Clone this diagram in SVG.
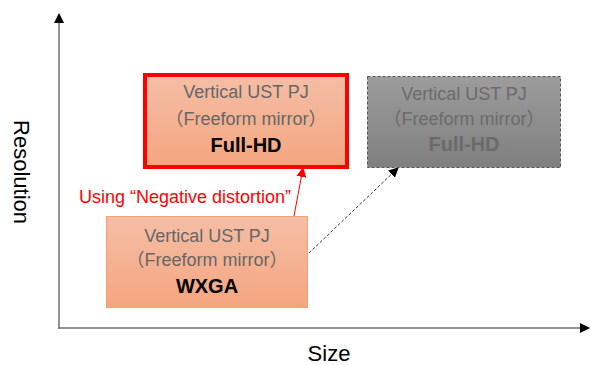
<svg xmlns="http://www.w3.org/2000/svg" width="590" height="365" viewBox="0 0 590 365">
<style>
text{font-family:"Liberation Sans","Noto Sans CJK JP",Arial,sans-serif;}
.t{font-size:18px;fill:#666;text-anchor:middle;}
.b{font-size:20px;font-weight:bold;text-anchor:middle;}
.ax{font-size:22px;fill:#000;text-anchor:middle;}
</style>
<defs>
<linearGradient id="og" x1="0" y1="0" x2="0" y2="1"><stop offset="0" stop-color="#f5bea6"/><stop offset="1" stop-color="#f4a57f"/></linearGradient>
<linearGradient id="gg" x1="0" y1="0" x2="0" y2="1"><stop offset="0" stop-color="#9c9c9c"/><stop offset="1" stop-color="#7f7f7f"/></linearGradient>
<marker id="ak" markerWidth="10" markerHeight="10" refX="9" refY="5" orient="auto" markerUnits="userSpaceOnUse"><path d="M0,0 L10,5 L0,10 z" fill="#000"/></marker>
<marker id="ar" markerWidth="10" markerHeight="10" refX="9" refY="5" orient="auto" markerUnits="userSpaceOnUse"><path d="M0,0 L10,5 L0,10 z" fill="#f00"/></marker>
</defs>
<g id="axes">
<line x1="59" y1="329" x2="59" y2="14" stroke="#6f6f6f" stroke-width="1.5" marker-end="url(#ak)"/>
<line x1="58" y1="328" x2="589" y2="328" stroke="#6f6f6f" stroke-width="1.5" marker-end="url(#ak)"/>
<text class="ax" transform="translate(14,172) rotate(90)">Resolution</text>
<text class="ax" x="329" y="361">Size</text>
</g>
<g id="connectors">
<line x1="294" y1="216" x2="303" y2="168" stroke="#f00" stroke-width="1" marker-end="url(#ar)"/>
<line x1="309" y1="253" x2="398" y2="168" stroke="#333" stroke-width="1" stroke-dasharray="3,2" marker-end="url(#ak)"/>
<text x="185" y="203" font-size="18" fill="#f00" text-anchor="middle">Using “Negative distortion”</text>
</g>
<g id="fullhd">
<rect x="145" y="75" width="202" height="92" fill="url(#og)" stroke="#f00" stroke-width="4"/>
<text class="t" x="246" y="98">Vertical UST PJ</text>
<text class="t" x="246" y="125">（Freeform mirror）</text>
<text class="b" x="246" y="152" fill="#000">Full-HD</text>
</g>
<g id="grayhd">
<rect x="367.5" y="76.5" width="193" height="91" fill="url(#gg)" stroke="#555" stroke-width="1" stroke-dasharray="3,2"/>
<text class="t" x="464" y="100" style="fill:#6a6a6a">Vertical UST PJ</text>
<text class="t" x="464" y="125" style="fill:#6a6a6a">（Freeform mirror）</text>
<text class="b" x="464" y="151" fill="#6a6a6a">Full-HD</text>
</g>
<g id="wxga">
<rect x="106.5" y="216.5" width="201" height="91" fill="url(#og)" stroke="#f4a070" stroke-width="1"/>
<text class="t" x="207" y="242">Vertical UST PJ</text>
<text class="t" x="207" y="266">（Freeform mirror）</text>
<text class="b" x="207" y="293" fill="#000">WXGA</text>
</g>
</svg>
